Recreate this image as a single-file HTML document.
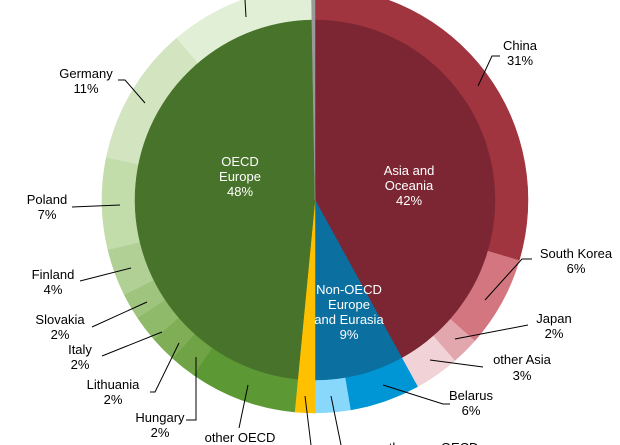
<!DOCTYPE html>
<html><head><meta charset="utf-8"><style>
html,body{margin:0;padding:0;background:#fff;}
svg{display:block;font-family:"Liberation Sans",Arial,sans-serif;font-size:13px;}
</style></head><body>
<svg id="s" width="620" height="445" viewBox="0 0 620 445" xmlns="http://www.w3.org/2000/svg">
<g id="pie"></g>
<g stroke="#000" stroke-width="1" fill="none">
<polyline points="478,86 492,56 500,56"/>
<polyline points="485,300 522,259 532,259"/>
<polyline points="455,339 528,325"/>
<polyline points="430,360 483,367"/>
<polyline points="383,385 443,404 450,404"/>
<polyline points="118,80 125,80 145,103"/>
<polyline points="72,207 120,205"/>
<polyline points="80,281 131,268"/>
<polyline points="92,327 147,302"/>
<polyline points="102,356 162,332"/>
<polyline points="150,392 155,392 179,343"/>
<polyline points="186,420 196,420 196,357"/>
<polyline points="239,428 248,385"/>
<polyline points="305,396 311,445"/>
<polyline points="331,396 341,445"/>
<polyline points="245,0 246,17"/>
</g>
<g fill="#000" text-anchor="middle">
<text x="520" y="50">China</text><text x="520" y="65">31%</text>
<text x="576" y="258">South Korea</text><text x="576" y="273">6%</text>
<text x="554" y="323">Japan</text><text x="554" y="338">2%</text>
<text x="522" y="364">other Asia</text><text x="522" y="380">3%</text>
<text x="471" y="400">Belarus</text><text x="471" y="415">6%</text>
<text x="86" y="78">Germany</text><text x="86" y="93">11%</text>
<text x="47" y="204">Poland</text><text x="47" y="219">7%</text>
<text x="53" y="279">Finland</text><text x="53" y="294">4%</text>
<text x="60" y="324">Slovakia</text><text x="60" y="339">2%</text>
<text x="80" y="354">Italy</text><text x="80" y="369">2%</text>
<text x="113" y="389">Lithuania</text><text x="113" y="404">2%</text>
<text x="160" y="422">Hungary</text><text x="160" y="437">2%</text>
<text x="240" y="442">other OECD</text>
<text x="430" y="452">other non-OECD</text>
</g>
<g fill="#fff" text-anchor="middle">
<text x="240" y="166">OECD</text><text x="240" y="181">Europe</text><text x="240" y="196">48%</text>
<text x="409" y="175">Asia and</text><text x="409" y="190">Oceania</text><text x="409" y="205">42%</text>
<text x="349" y="294">Non-OECD</text><text x="349" y="309">Europe</text><text x="349" y="324">and Eurasia</text><text x="349" y="339">9%</text>
</g>
</svg>
<script>
(function(){
var cx=315,cy=200,ri=180,ro=213,g=document.getElementById('pie');
function pt(r,a){a=a*Math.PI/180;return [cx+r*Math.sin(a),cy-r*Math.cos(a)];}
function sector(r0,r1,a0,a1,c){
 var la=(a1-a0)>180?1:0,p=pt(r1,a0),q=pt(r1,a1),d;
 if(r0==0){d='M'+cx+','+cy+'L'+p+'A'+r1+','+r1+' 0 '+la+' 1 '+q+'Z';}
 else{var s=pt(r0,a1),t=pt(r0,a0);d='M'+p+'A'+r1+','+r1+' 0 '+la+' 1 '+q+'L'+s+'A'+r0+','+r0+' 0 '+la+' 0 '+t+'Z';}
 var e=document.createElementNS('http://www.w3.org/2000/svg','path');
 e.setAttribute('d',d);e.setAttribute('fill',c);e.setAttribute('stroke',c);e.setAttribute('stroke-width','0.5');g.appendChild(e);}
var outer=[[0,106.5,'#a0343f'],[106.5,131.4,'#d4767f'],[131.4,139,'#e2a6ad'],[139,151.2,'#f1d3d7'],
[151.2,170.4,'#0096d6'],[170.4,180,'#88d8fb'],[180,185.5,'#ffc000'],
[185.5,214.8,'#5c9935'],[214.8,222,'#6fa345'],[222,229.2,'#7fae57'],[229.2,236.4,'#8fba6a'],[236.4,243.6,'#9fc47e'],
[243.6,256.5,'#b0d095'],[256.5,281.5,'#c2dcaa'],[281.5,319.5,'#d2e4c0'],[319.5,359,'#e1efd6'],[359,360,'#999999']];
outer.forEach(function(o){sector(ri,ro,o[0],o[1],o[2]);});
var inner=[[0,151.2,'#7b2632'],[151.2,180,'#0b6fa0'],[180,185.5,'#ffc000'],[185.5,359,'#48732a'],[359,360,'#999999']];
inner.forEach(function(o){sector(0,ri,o[0],o[1],o[2]);});
})();
</script>
</body></html>
